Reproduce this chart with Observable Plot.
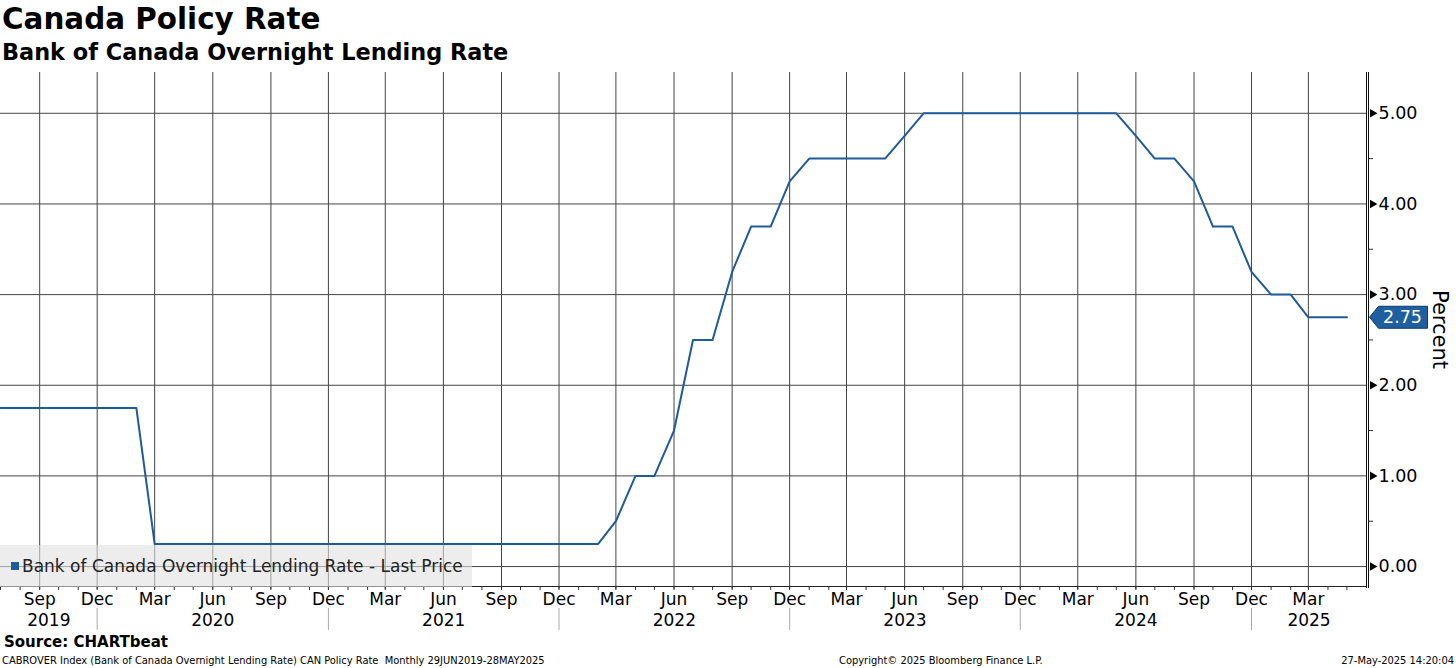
<!DOCTYPE html>
<html><head><meta charset="utf-8">
<script src="https://cdn.jsdelivr.net/npm/d3@7"></script>
<script src="https://cdn.jsdelivr.net/npm/@observablehq/plot@0.6"></script>
<style>
body{margin:0;background:#fff;font-family:"DejaVu Sans",sans-serif;width:1456px;height:668px;overflow:hidden;position:relative}
.t{position:absolute;white-space:nowrap;color:#000;line-height:1}
.f{font-family:"DejaVu Sans Condensed","DejaVu Sans",sans-serif;font-size:11px}
</style></head><body>
<div class="t" style="left:2px;top:5px;font-weight:bold;font-size:29.4px;">Canada Policy Rate</div>
<div class="t" style="left:2px;top:41px;font-weight:bold;font-size:22.4px;">Bank of Canada Overnight Lending Rate</div>
<div id="chart" style="position:absolute;left:0;top:66px"></div>
<div style="position:absolute;left:0;top:545px;width:472px;height:42px;background:rgba(225,225,225,0.6)"></div>
<div style="position:absolute;left:11px;top:562px;width:8px;height:8px;background:#1f5b98"></div>
<div class="t" style="left:22px;top:557.5px;font-size:17px;color:#222">Bank of Canada Overnight Lending Rate - Last Price</div>
<div class="t" style="left:4px;top:635px;font-weight:bold;font-size:15px;">Source: CHARTbeat</div>
<div class="t f" style="left:2px;top:655px;">CABROVER Index (Bank of Canada Overnight Lending Rate) CAN Policy Rate&nbsp; Monthly 29JUN2019-28MAY2025</div>
<div class="t f" style="left:839px;top:655px;">Copyright© 2025 Bloomberg Finance L.P.</div>
<div class="t f" style="right:2px;top:655px;">27-May-2025 14:20:04</div>
<script>
// Monthly month-end policy rate, Jul 2019 .. May 2025
const rates = [
  1.75,1.75,1.75,1.75,1.75,1.75,                                  // 2019 Jul-Dec
  1.75,1.75,0.25,0.25,0.25,0.25,0.25,0.25,0.25,0.25,0.25,0.25,    // 2020
  0.25,0.25,0.25,0.25,0.25,0.25,0.25,0.25,0.25,0.25,0.25,0.25,    // 2021
  0.25,0.25,0.50,1.00,1.00,1.50,2.50,2.50,3.25,3.75,3.75,4.25,    // 2022
  4.50,4.50,4.50,4.50,4.50,4.75,5.00,5.00,5.00,5.00,5.00,5.00,    // 2023
  5.00,5.00,5.00,5.00,5.00,4.75,4.50,4.50,4.25,3.75,3.75,3.25,    // 2024
  3.00,3.00,2.75,2.75,2.75                                        // 2025 Jan-May
];
const years = [2019,2020,2021,2022,2023,2024,2025];
const yTicks = [0,1,2,3,4,5];
const yMinor = [0.5,1.5,2.5,3.5,4.5];
const monthNames = {2:"Mar",5:"Jun",8:"Sep",11:"Dec"};
const lastLabel = "2.75";

const x0 = new Date(Date.UTC(2019,6,1)), x1 = new Date(Date.UTC(2025,5,1));
const months = d3.utcMonth.range(x0, x1);
const data = months.map((d,i)=>({date:d, rate:rates[i]}));
const quarters = months.filter(d=>d.getUTCMonth()%3===2);
const decs = quarters.filter(d=>d.getUTCMonth()===11);
const bounds = [x0, ...decs, x1];
const yearPos = years.map((y,i)=>new Date((+bounds[i] + +bounds[i+1])/2));
const last = data[data.length-1];

const flag = {draw(ctx){ctx.moveTo(0,0);ctx.lineTo(9,-11);ctx.lineTo(58,-11);ctx.lineTo(58,11);ctx.lineTo(9,11);ctx.closePath();}};
const grid = "#444";

const chart = Plot.plot({
  width:1456, height:570, marginTop:6, marginBottom:50, marginLeft:0, marginRight:90,
  x:{type:"utc", domain:[x0,x1], axis:null},
  y:{domain:[-0.22,5.45], axis:null},
  style:{fontFamily:"DejaVu Sans", fontSize:"17px", color:"#000", background:"transparent", overflow:"visible"},
  marks:[
    Plot.ruleY(yTicks, {y:d=>d, stroke:grid, strokeWidth:1}),
    Plot.ruleX(quarters, {x:d=>d, stroke:grid, strokeWidth:1, insetBottom:-3}),
    Plot.axisX({anchor:"bottom", ticks:months, tickSize:4, tickFormat:()=>"", stroke:"#333", label:null}),
    Plot.axisX({anchor:"bottom", ticks:decs, tickSize:22, dy:22, tickFormat:()=>"", stroke:"#aaa", label:null}),
    Plot.frame({anchor:"bottom", stroke:"#222"}),
    Plot.ruleX([x1], {x:d=>d, stroke:"#111", insetBottom:-2}),
    Plot.ruleX([x1], {x:d=>d, stroke:"#111", dx:2, insetBottom:-2}),
    Plot.axisY({anchor:"right", ticks:yMinor, tickSize:4, tickFormat:()=>"", stroke:"#333", dx:2, label:null}),
    Plot.dot(yTicks, {y:d=>d, frameAnchor:"right", dx:6, symbol:"triangle", rotate:90, r:3.2, fill:"#000", stroke:null}),
    Plot.text(yTicks, {y:d=>d, text:d=>d.toFixed(2), frameAnchor:"right", dx:12, textAnchor:"start", fontSize:17.5, fill:"#000"}),
    Plot.text(quarters, {x:d=>d, text:d=>monthNames[d.getUTCMonth()], frameAnchor:"bottom", dy:13, lineAnchor:"middle", fontSize:17, fill:"#000"}),
    Plot.text(years, {x:(d,i)=>yearPos[i], text:d=>String(d), frameAnchor:"bottom", dy:34, lineAnchor:"middle", fontSize:17, fill:"#000"}),
    Plot.text(["Percent"], {text:d=>d, frameAnchor:"right", dx:73, rotate:90, fontSize:21, fill:"#000", textAnchor:"middle", lineAnchor:"middle"}),
    Plot.line(data, {x:"date", y:"rate", stroke:"#1f5b98", strokeWidth:2}),
    Plot.dot([last], {y:"rate", frameAnchor:"right", dx:3, symbol:flag, fill:"#1f5f9f", stroke:"#0b3b6b", strokeWidth:1}),
    Plot.text([last], {y:"rate", text:()=>lastLabel, frameAnchor:"right", dx:36, textAnchor:"middle", fontSize:17.5, fill:"#fff"})
  ]
});
document.getElementById("chart").appendChild(chart);
</script>
</body></html>
